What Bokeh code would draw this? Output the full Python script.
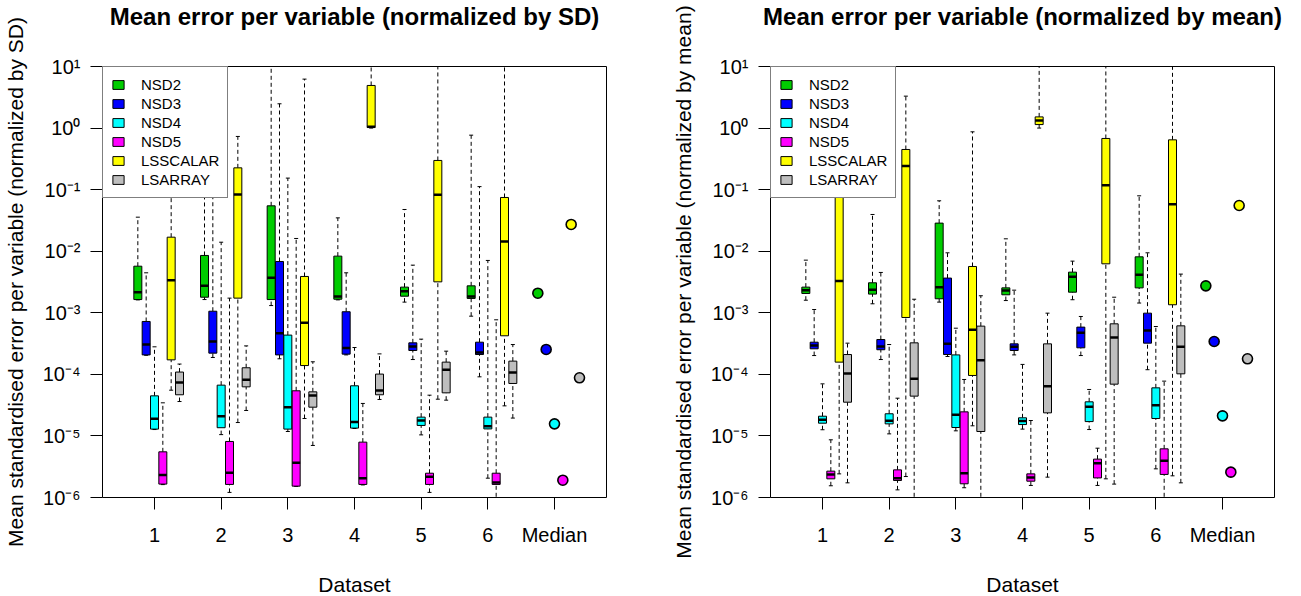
from bokeh.plotting import figure
from bokeh.models import Range1d, FixedTicker, Legend, LegendItem, ColumnDataSource, Title
from bokeh.layouts import row
from bokeh.embed import file_html
from bokeh.resources import INLINE

# ---------------- data ----------------
series = ["NSD2", "NSD3", "NSD4", "NSD5", "LSSCALAR", "LSARRAY"]
colors = ["#00CD00", "#0000FF", "#00FFFF", "#FF00FF", "#FFFF00", "#BEBEBE"]
dataset_ticks = [1, 2, 3, 4, 5, 6, 7]
dataset_labels = ["1", "2", "3", "4", "5", "6", "Median"]
y_ticks = [1e-6, 1e-5, 1e-4, 1e-3, 1e-2, 1e-1, 1e0, 1e1]
y_tick_labels = ["10\u207b\u2076", "10\u207b\u2075", "10\u207b\u2074", "10\u207b\u00b3",
                 "10\u207b\u00b2", "10\u207b\u00b9", "10\u2070", "10\u00b9"]

# box statistics per dataset 1..6: (lower whisker, Q1, median, Q3, upper whisker)
# --- left panel: normalized by SD ---
sd_nsd2 = [(1.62e-3, 1.64e-3, 2.16e-3, 5.71e-3, 3.57e-2),
           (1.64e-3, 1.79e-3, 2.74e-3, 8.53e-3, 2.5e-1),
           (1.31e-3, 1.64e-3, 3.70e-3, 5.46e-2, 30.0),
           (1.62e-3, 1.66e-3, 1.84e-3, 8.32e-3, 3.48e-2),
           (1.49e-3, 1.86e-3, 2.24e-3, 2.61e-3, 4.76e-2),
           (8.81e-4, 1.71e-3, 1.84e-3, 2.74e-3, 7.67e-1)]
sd_nsd3 = [(2.04e-4, 2.07e-4, 3.05e-4, 7.23e-4, 4.46e-3),
           (1.88e-4, 2.21e-4, 3.42e-4, 1.06e-3, 2.5e-1),
           (1.79e-4, 2.07e-4, 4.67e-4, 6.81e-3, 2.48),
           (2.07e-4, 2.13e-4, 2.67e-4, 1.04e-3, 4.46e-3),
           (1.74e-4, 2.44e-4, 2.84e-4, 3.25e-4, 5.94e-3),
           (9.12e-5, 2.10e-4, 2.26e-4, 3.33e-4, 1.12e-1)]
sd_nsd4 = [(1.27e-5, 1.29e-5, 1.90e-5, 4.48e-5, 2.80e-4),
           (1.05e-5, 1.36e-5, 2.09e-5, 6.68e-5, 1.40e-2),
           (1.18e-5, 1.29e-5, 2.93e-5, 4.34e-4, 1.54e-1),
           (1.32e-5, 1.34e-5, 1.69e-5, 6.52e-5, 2.73e-4),
           (1.04e-5, 1.48e-5, 1.78e-5, 2.02e-5, 3.73e-4),
           (2.06e-6, 1.30e-5, 1.44e-5, 2.02e-5, 7.08e-3)]
sd_nsd5 = [(1.62e-6, 1.65e-6, 2.31e-6, 5.52e-6, 3.45e-5),
           (1.21e-6, 1.63e-6, 2.52e-6, 8.13e-6, 1.73e-3),
           (1.51e-6, 1.53e-6, 3.66e-6, 5.41e-5, 1.61e-2),
           (1.60e-6, 1.63e-6, 2.06e-6, 7.93e-6, 3.37e-5),
           (1.21e-6, 1.63e-6, 2.17e-6, 2.48e-6, 4.59e-5),
           (7.9e-7, 1.63e-6, 1.75e-6, 2.48e-6, 7.69e-4)]
sd_lsscalar = [(5.53e-5, 1.72e-4, 3.39e-3, 1.69e-2, 5.0e-1),
               (1.65e-5, 1.73e-3, 8.36e-2, 2.26e-1, 7.31e-1),
               (1.92e-5, 1.39e-4, 6.87e-4, 3.89e-3, 6.24),
               (1.00, 1.02, 1.05, 4.92, 30.0),
               (3.95e-5, 3.18e-3, 8.24e-2, 2.98e-1, 30.0),
               (3.08e-5, 4.23e-4, 1.44e-2, 7.46e-2, 30.0)]
sd_lsarray = [(3.62e-5, 4.66e-5, 7.38e-5, 1.09e-4, 1.47e-4),
              (2.59e-5, 6.27e-5, 8.15e-5, 1.28e-4, 2.90e-4),
              (7.00e-6, 2.93e-5, 4.54e-5, 5.20e-5, 1.60e-4),
              (3.91e-5, 4.66e-5, 5.47e-5, 1.01e-4, 2.15e-4),
              (3.81e-5, 5.01e-5, 1.19e-4, 1.58e-4, 2.38e-4),
              (1.95e-5, 7.11e-5, 1.07e-4, 1.64e-4, 3.05e-4)]
sd_medians = [2.08e-3, 2.54e-4, 1.57e-5, 1.91e-6, 2.72e-2, 8.79e-5]

# --- right panel: normalized by mean ---
mean_nsd2 = [(1.60e-3, 2.06e-3, 2.33e-3, 2.61e-3, 7.16e-3),
             (1.40e-3, 2.01e-3, 2.36e-3, 3.07e-3, 3.95e-2),
             (1.49e-3, 1.69e-3, 2.61e-3, 2.86e-2, 6.59e-2),
             (1.58e-3, 1.96e-3, 2.30e-3, 2.54e-3, 1.59e-2),
             (1.63e-3, 2.16e-3, 3.84e-3, 4.57e-3, 6.90e-3),
             (1.44e-3, 2.54e-3, 4.14e-3, 8.11e-3, 7.94e-2)]
mean_nsd3 = [(2.02e-4, 2.60e-4, 2.94e-4, 3.33e-4, 1.13e-3),
             (1.74e-4, 2.51e-4, 2.84e-4, 3.68e-4, 4.52e-3),
             (1.95e-4, 2.10e-4, 3.13e-4, 3.66e-3, 9.42e-3),
             (2.07e-4, 2.44e-4, 2.80e-4, 3.13e-4, 2.33e-3),
             (2.02e-4, 2.70e-4, 4.73e-4, 5.85e-4, 8.71e-4),
             (1.19e-4, 3.21e-4, 5.15e-4, 9.86e-4, 9.42e-3)]
mean_nsd4 = [(1.26e-5, 1.61e-5, 1.83e-5, 2.09e-5, 7.01e-5),
             (1.08e-5, 1.57e-5, 1.76e-5, 2.29e-5, 3.05e-4),
             (1.21e-5, 1.37e-5, 2.20e-5, 2.07e-4, 5.62e-4),
             (1.29e-5, 1.53e-5, 1.74e-5, 1.97e-5, 1.45e-4),
             (1.27e-5, 1.71e-5, 2.97e-5, 3.58e-5, 5.68e-5),
             (2.92e-6, 1.92e-5, 3.16e-5, 6.04e-5, 5.98e-4)]
mean_nsd5 = [(1.55e-6, 2.01e-6, 2.37e-6, 2.68e-6, 8.65e-6),
             (1.33e-6, 1.89e-6, 2.06e-6, 2.81e-6, 4.10e-5),
             (1.44e-6, 1.67e-6, 2.48e-6, 2.46e-5, 8.26e-5),
             (1.57e-6, 1.84e-6, 2.11e-6, 2.42e-6, 1.78e-5),
             (1.57e-6, 2.08e-6, 3.61e-6, 4.20e-6, 6.32e-6),
             (7.9e-7, 2.37e-6, 3.94e-6, 6.17e-6, 7.76e-5)]
mean_lsscalar = [(2.42e-6, 1.58e-4, 3.27e-3, 2.0e-1, 2.0),
                 (2.19e-6, 8.39e-4, 2.41e-1, 4.49e-1, 3.30),
                 (1.46e-5, 9.59e-5, 5.28e-4, 5.65e-3, 8.69e-1),
                 (1.00, 1.14, 1.33, 1.52, 30.0),
                 (2.01e-6, 6.24e-3, 1.18e-1, 6.78e-1, 30.0),
                 (2.25e-6, 1.35e-3, 5.81e-2, 6.44e-1, 30.0)]
mean_lsarray = [(1.73e-6, 3.53e-5, 1.03e-4, 2.10e-4, 3.21e-4),
                (7.9e-7, 4.43e-5, 8.45e-5, 3.25e-4, 1.66e-3),
                (7.9e-7, 1.18e-5, 1.70e-4, 6.07e-4, 1.89e-3),
                (2.14e-6, 2.37e-5, 6.43e-5, 3.13e-4, 9.86e-4),
                (1.65e-6, 6.93e-5, 3.97e-4, 6.62e-4, 1.79e-3),
                (1.73e-6, 1.02e-4, 2.80e-4, 6.14e-4, 4.25e-3)]
mean_medians = [2.74e-3, 3.42e-4, 2.12e-5, 2.58e-6, 5.53e-2, 1.79e-4]

FONT = "Liberation Sans"
SLOT = 0.125      # spacing between series within a dataset group
BOX_W = 0.12      # box width (x units)
CAP_W = 0.06      # whisker staple width


def make_panel(title, ylabel, stats, medians, border_left, border_right):
    p = figure(output_backend="svg", toolbar_location=None,
               frame_width=504, frame_height=431,
               min_border_left=border_left, min_border_right=border_right,
               min_border_top=66, min_border_bottom=91,
               y_axis_type="log",
               x_range=Range1d(0.22, 7.78), y_range=Range1d(1e-6, 10))
    p.background_fill_color = "white"
    p.border_fill_color = "white"
    p.outline_line_color = "black"
    p.outline_line_width = 1
    p.xgrid.visible = False
    p.ygrid.visible = False

    # spacer between frame and title (keeps the title high above the frame)
    p.add_layout(Title(text=" ", text_font_size="10px", standoff=24), "above")

    p.title.text = title
    p.title.align = "center"
    p.title.vertical_align = "bottom"
    p.title.text_font = FONT
    p.title.text_font_size = "24px"
    p.title.text_font_style = "bold"
    p.title.text_color = "black"
    p.title.standoff = 0

    for ax in (p.xaxis[0], p.yaxis[0]):
        ax.axis_line_color = None
        ax.major_tick_out = 12
        ax.major_tick_in = 0
        ax.major_tick_line_color = "black"
        ax.minor_tick_line_color = None
        ax.major_label_text_font = FONT
        ax.major_label_text_font_size = "20px"
        ax.major_label_text_color = "black"
        ax.axis_label_text_font = FONT
        ax.axis_label_text_font_size = "21px"
        ax.axis_label_text_font_style = "normal"
        ax.axis_label_text_color = "black"

    p.xaxis.ticker = FixedTicker(ticks=dataset_ticks)
    p.xaxis.major_label_overrides = {t: l for t, l in zip(dataset_ticks, dataset_labels)}
    p.xaxis.major_label_standoff = 14
    p.xaxis.axis_label = "Dataset"
    p.xaxis.axis_label_standoff = 24

    p.yaxis.ticker = FixedTicker(ticks=y_ticks, minor_ticks=[])
    p.yaxis.major_label_overrides = {t: l for t, l in zip(y_ticks, y_tick_labels)}
    p.yaxis.major_label_standoff = 10
    p.yaxis.axis_label = ylabel
    p.yaxis.axis_label_standoff = 13

    box_renderers = []
    for j, (name, col, rows) in enumerate(zip(series, colors, stats)):
        xs = [d + (j - 2) * SLOT for d in dataset_ticks[:6]]
        src = ColumnDataSource(dict(
            x=xs,
            xl=[x - BOX_W / 2 for x in xs], xr=[x + BOX_W / 2 for x in xs],
            cl=[x - CAP_W / 2 for x in xs], cr=[x + CAP_W / 2 for x in xs],
            lo=[r[0] for r in rows], q1=[r[1] for r in rows], med=[r[2] for r in rows],
            q3=[r[3] for r in rows], hi=[r[4] for r in rows]))
        # whiskers
        p.segment(x0="x", y0="q3", x1="x", y1="hi", source=src,
                  line_color="black", line_width=1, line_dash="4 3")
        p.segment(x0="x", y0="lo", x1="x", y1="q1", source=src,
                  line_color="black", line_width=1, line_dash="4 3")
        # staples
        p.segment(x0="cl", y0="hi", x1="cr", y1="hi", source=src,
                  line_color="black", line_width=1)
        p.segment(x0="cl", y0="lo", x1="cr", y1="lo", source=src,
                  line_color="black", line_width=1)
        # boxes
        r = p.quad(left="xl", right="xr", bottom="q1", top="q3", source=src,
                   fill_color=col, line_color="black", line_width=1)
        box_renderers.append(r)
        # medians
        p.segment(x0="xl", y0="med", x1="xr", y1="med", source=src,
                  line_color="black", line_width=2.5)

    # Median group of points
    mx = [dataset_ticks[6] + (j - 2) * SLOT for j in range(len(series))]
    msrc = ColumnDataSource(dict(x=mx, y=medians, c=colors))
    p.scatter(x="x", y="y", source=msrc, size=10, fill_color="c",
              line_color="black", line_width=1.6)

    legend = Legend(items=[LegendItem(label=n, renderers=[r])
                           for n, r in zip(series, box_renderers)],
                    location="top_left")
    legend.margin = 0
    legend.padding = 8
    legend.spacing = 0
    legend.border_line_color = "black"
    legend.border_line_width = 1
    legend.background_fill_color = "white"
    legend.background_fill_alpha = 1.0
    legend.label_text_font = FONT
    legend.label_text_font_size = "15px"
    legend.label_text_color = "black"
    legend.label_height = 19
    legend.glyph_width = 14
    legend.glyph_height = 11
    legend.label_standoff = 16
    p.add_layout(legend)
    return p


p1 = make_panel("Mean error per variable (normalized by SD)",
                "Mean standardised error per variable (normalized by SD)",
                [sd_nsd2, sd_nsd3, sd_nsd4, sd_nsd5, sd_lsscalar, sd_lsarray],
                sd_medians, 95, 43)
p2 = make_panel("Mean error per variable (normalized by mean)",
                "Mean standardised error per variable (normalized by mean)",
                [mean_nsd2, mean_nsd3, mean_nsd4, mean_nsd5, mean_lsscalar, mean_lsarray],
                mean_medians, 121, 18)

layout = row(p1, p2)
open("out.html", "w").write(file_html(layout, INLINE))
